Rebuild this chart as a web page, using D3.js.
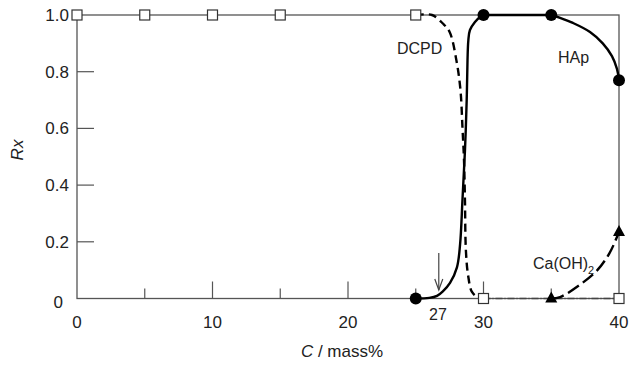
<!DOCTYPE html>
<html>
<head>
<meta charset="utf-8">
<script src="https://cdn.jsdelivr.net/npm/d3@7"></script>
<style>
  body { margin: 0; background: #fff; }
  text { font-family: "Liberation Sans", Arial, sans-serif; fill: #222; }
</style>
</head>
<body>
<svg id="chart" width="629" height="365"></svg>
<script>
// measured points (markers)
const dcpdX = [0, 5, 10, 15, 25, 30, 40];
const dcpdY = [1, 1, 1, 1, 1, 0, 0];
const hapX = [25, 30, 35, 40];
const hapY = [0, 1, 1, 0.77];
const caX = [35, 40];
const caY = [0, 0.235];

// curve traces
const dcpdCurve = [[25, 1], [26.2, 1], [27, 0.97], [27.5, 0.94], [28, 0.84], [28.3, 0.735], [28.45, 0.6],
  [28.56, 0.49], [28.63, 0.35], [28.7, 0.17], [28.86, 0.083], [29.15, 0.023], [29.6, 0.004], [30, 0]];
const dcpdTail = [[30, 0], [40, 0]];
const hapRise = [[25, 0], [26, 0.002], [26.57, 0.009], [27, 0.025], [27.53, 0.055], [28.04, 0.11], [28.27, 0.19],
  [28.45, 0.35], [28.63, 0.52], [28.76, 0.7], [28.82, 0.84], [28.88, 0.91], [29.0, 0.947], [29.37, 0.975],
  [29.74, 0.993], [30, 1]];
const hapFlat = [[30, 1], [35, 1]];
const hapDrop = [[35, 1], [35.65, 0.99], [36.6, 0.972], [37.86, 0.94], [38.8, 0.9], [39.48, 0.855],
  [39.85, 0.81], [40, 0.77]];
const caCurve = [[35, 0], [35.65, 0.005], [37.1, 0.048], [38.4, 0.1], [39.3, 0.16], [39.85, 0.217], [40, 0.235]];

const xMajor = [0, 10, 20, 30, 40];
const xMinor = [5, 15, 25, 35];
const yTicks = [0, 0.2, 0.4, 0.6, 0.8, 1.0];
const arrowAt = 26.7;

const svg = d3.select('#chart');
const axisColor = '#555';
const x = d3.scaleLinear().domain([0, 40]).range([77, 619]);
const y = d3.scaleLinear().domain([0, 1]).range([298.5, 15]);

// frame
svg.append('rect').attr('x', x(0)).attr('y', y(1)).attr('width', x(40) - x(0)).attr('height', y(0) - y(1))
  .attr('fill', 'none').attr('stroke', axisColor).attr('stroke-width', 1.3);

// x ticks (pointing inward)
svg.selectAll('.xmaj').data(xMajor.filter(d => d > 0 && d < 40)).enter().append('line')
  .attr('x1', d => x(d)).attr('x2', d => x(d)).attr('y1', y(0)).attr('y2', y(0) - 17)
  .attr('stroke', axisColor).attr('stroke-width', 1.2);
svg.selectAll('.xmin').data(xMinor).enter().append('line')
  .attr('x1', d => x(d)).attr('x2', d => x(d)).attr('y1', y(0)).attr('y2', y(0) - 10)
  .attr('stroke', axisColor).attr('stroke-width', 1.2);
svg.selectAll('.xlab').data(xMajor).enter().append('text')
  .attr('x', d => x(d)).attr('y', 328).attr('text-anchor', 'middle').attr('font-size', 17).text(d => d);

// y ticks
svg.selectAll('.ytk').data(yTicks.filter(d => d > 0 && d < 1)).enter().append('line')
  .attr('x1', x(0)).attr('x2', x(0) + 17).attr('y1', d => y(d)).attr('y2', d => y(d))
  .attr('stroke', axisColor).attr('stroke-width', 1.2);
svg.selectAll('.ylab').data(yTicks).enter().append('text')
  .attr('x', d => d === 0 ? 63 : 69).attr('y', d => y(d) + (d === 0 ? 9 : 6))
  .attr('text-anchor', 'end').attr('font-size', 17).text(d => d === 0 ? '0' : d.toFixed(1));

// axis titles
const xt = svg.append('text').attr('x', 342).attr('y', 357).attr('text-anchor', 'middle').attr('font-size', 17);
xt.append('tspan').attr('font-style', 'italic').text('C');
xt.append('tspan').text(' / mass%');
svg.append('text').attr('transform', 'translate(23,150) rotate(-90)').attr('text-anchor', 'middle')
  .attr('font-size', 17).attr('font-style', 'italic').text('Rx');

const line = d3.line().x(d => x(d[0])).y(d => y(d[1])).curve(d3.curveCatmullRom.alpha(0.5));

// DCPD tail along zero (dash-dot)
svg.append('path').attr('d', line(dcpdTail)).attr('fill', 'none').attr('stroke', '#444')
  .attr('stroke-width', 1.3).attr('stroke-dasharray', '7,2,1,2');
// DCPD drop (dashed)
svg.append('path').attr('d', line(dcpdCurve)).attr('fill', 'none').attr('stroke', '#000')
  .attr('stroke-width', 2.4).attr('stroke-dasharray', '8,5');
// Ca(OH)2 (long dash)
svg.append('path').attr('d', line(caCurve)).attr('fill', 'none').attr('stroke', '#000')
  .attr('stroke-width', 2.4).attr('stroke-dasharray', '13,5');
// HAp (solid)
[hapRise, hapFlat, hapDrop].forEach(seg => {
  svg.append('path').attr('d', line(seg)).attr('fill', 'none').attr('stroke', '#000')
    .attr('stroke-width', 2.4).attr('stroke-linejoin', 'round');
});

// arrow at 27
const ax = x(arrowAt);
svg.append('line').attr('x1', ax).attr('x2', ax).attr('y1', 253).attr('y2', 290)
  .attr('stroke', '#444').attr('stroke-width', 1.2);
svg.append('path').attr('d', `M${ax - 4},${279} L${ax},${290} L${ax + 4},${279}`)
  .attr('fill', 'none').attr('stroke', '#444').attr('stroke-width', 1.2);

// markers
svg.selectAll('.sq').data(dcpdX.map((d, i) => [d, dcpdY[i]])).enter().append('rect')
  .attr('x', d => x(d[0]) - 5).attr('y', d => y(d[1]) - 5).attr('width', 10).attr('height', 10)
  .attr('fill', '#fff').attr('stroke', '#333').attr('stroke-width', 1.2);
svg.selectAll('.dot').data(hapX.map((d, i) => [d, hapY[i]])).enter().append('circle')
  .attr('cx', d => x(d[0])).attr('cy', d => y(d[1])).attr('r', 6).attr('fill', '#000');
svg.selectAll('.tri').data(caX.map((d, i) => [d, caY[i]])).enter().append('path')
  .attr('transform', d => `translate(${x(d[0])},${y(d[1])})`)
  .attr('d', 'M0,-7 L6,4 L-6,4 Z').attr('fill', '#000');

// series labels
svg.append('text').attr('x', 397).attr('y', 54).attr('font-size', 16).text('DCPD');
svg.append('text').attr('x', 558).attr('y', 63).attr('font-size', 16).text('HAp');
const ca = svg.append('text').attr('x', 533).attr('y', 269).attr('font-size', 16);
ca.append('tspan').text('Ca(OH)');
ca.append('tspan').attr('font-size', 11).attr('dy', 5).text('2');
svg.append('text').attr('x', 438).attr('y', 320).attr('text-anchor', 'middle').attr('font-size', 16).text('27');
</script>
</body>
</html>
